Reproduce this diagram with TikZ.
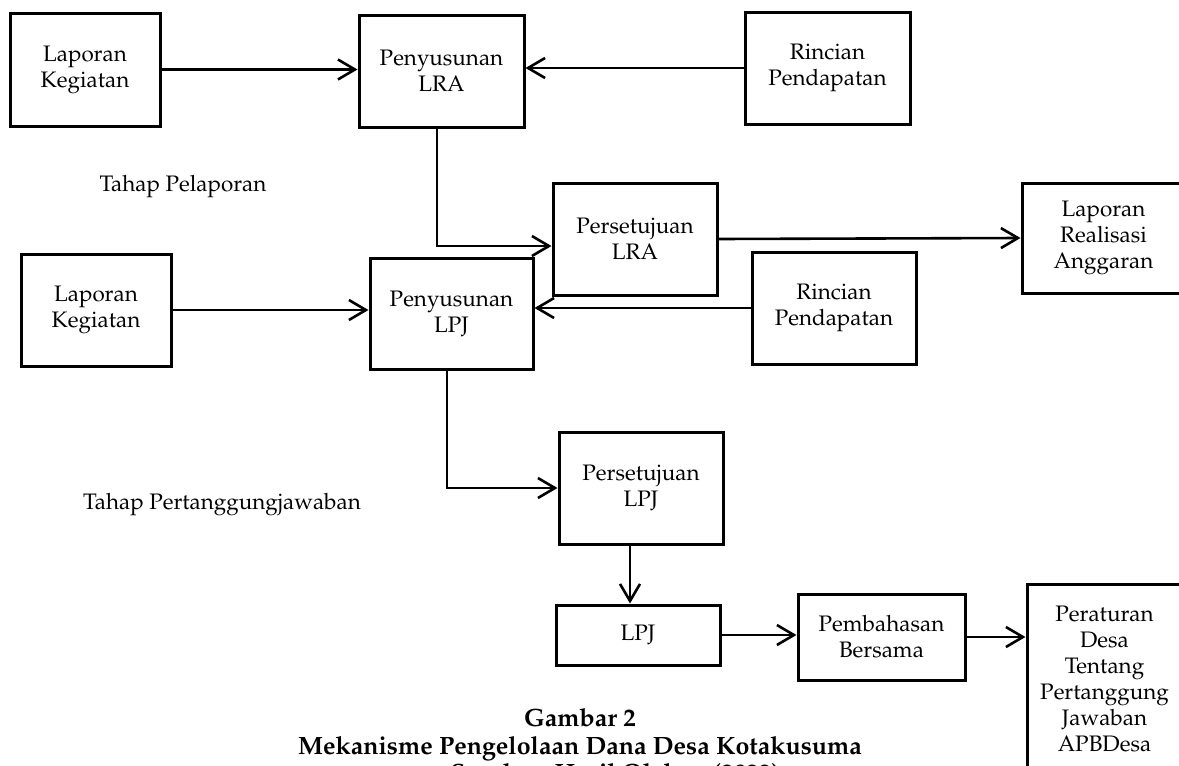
\documentclass[tikz,border=0pt]{standalone}
\usepackage[T1]{fontenc}
\usepackage{mathpazo}
\usetikzlibrary{arrows.meta}
\begin{document}
\begin{tikzpicture}[x=0.5pt,y=-0.5pt,
  box/.style={draw, line width=1.5pt, align=center, inner sep=0pt, font=\fontsize{11.2}{13}\selectfont},
  arr/.style={line width=1.3pt, -{Straight Barb[length=8.5pt,width=10pt,line width=1.3pt]}},
  lbl/.style={font=\fontsize{11.2}{13}\selectfont},
  captext/.style={font=\fontsize{12.5}{14}\selectfont\bfseries, anchor=base}]
\useasboundingbox (0,0) rectangle (1179,766);
% nodes
\node[box, minimum width=75pt,   minimum height=56.5pt] (lk1)  at (85,69.5)    {Laporan\\Kegiatan};
\node[box, minimum width=82.5pt, minimum height=56pt]   (plra) at (441.5,71)   {Penyusunan\\LRA};
\node[box, minimum width=82.5pt, minimum height=56pt]   (rp1)  at (827.5,68)   {Rincian\\Pendapatan};
\node[box, minimum width=82pt,   minimum height=56pt]   (perslra) at (635,239) {Persetujuan\\LRA};
\node[box, minimum width=81.5pt, minimum height=55pt]   (lra)  at (1103.5,238) {Laporan\\Realisasi\\Anggaran};
\node[box, minimum width=75pt,   minimum height=56pt]   (lk2)  at (96,310)     {Laporan\\Kegiatan};
\node[box, minimum width=81.5pt, minimum height=55.5pt] (plpj) at (451.5,313.5) {Penyusunan\\LPJ};
\node[box, minimum width=82pt,   minimum height=56pt]   (rp2)  at (834,308)    {Rincian\\Pendapatan};
\node[box, minimum width=82pt,   minimum height=56pt]   (perslpj) at (641,488) {Persetujuan\\LPJ};
\node[box, minimum width=82pt,   minimum height=30pt]   (lpj)  at (638,635)    {LPJ};
\node[box, minimum width=83.5pt, minimum height=43pt]   (pemb) at (881.5,637)  {Pembahasan\\Bersama};
\node[box, minimum width=77.5pt, minimum height=95pt]   (perat) at (1104.5,679) {Peraturan\\Desa\\Tentang\\Pertanggung\\Jawaban\\APBDesa};
% labels
\node[lbl] (tpl) at (183,187) {Tahap Pelaporan};
\node[lbl] (tpj) at (222,505) {Tahap Pertanggungjawaban};
% caption
\node[captext] (cap1) at (580,726) {Gambar 2};
\node[captext] (cap2) at (580,754) {Mekanisme Pengelolaan Dana Desa Kotakusuma};
\node[captext] (cap3) at (615,781) {Sumber: Hasil Olahan (2022)};
% connectors
\coordinate (c1) at (437,246);
\coordinate (c2) at (447,488);
\coordinate (c3) at (630,0);
\draw[arr] (lk1) -- (lk1 -| plra.west);
\draw[arr] (rp1) -- (rp1 -| plra.east);
\draw[arr] (plra.south -| c1) -- (c1) -- (c1 -| perslra.west);
\draw[arr] (perslra.east) -- (lra.west);
\draw[arr] (lk2) -- (lk2 -| plpj.west);
\draw[arr] (rp2) -- (rp2 -| plpj.east);
\draw[arr] (plpj.south -| c2) -- (c2) -- (c2 -| perslpj.west);
\draw[arr] (perslpj.south -| c3) -- (lpj.north -| c3);
\draw[arr] (lpj) -- (lpj -| pemb.west);
\draw[arr] (pemb) -- (pemb -| perat.west);
\end{tikzpicture}
\end{document}
